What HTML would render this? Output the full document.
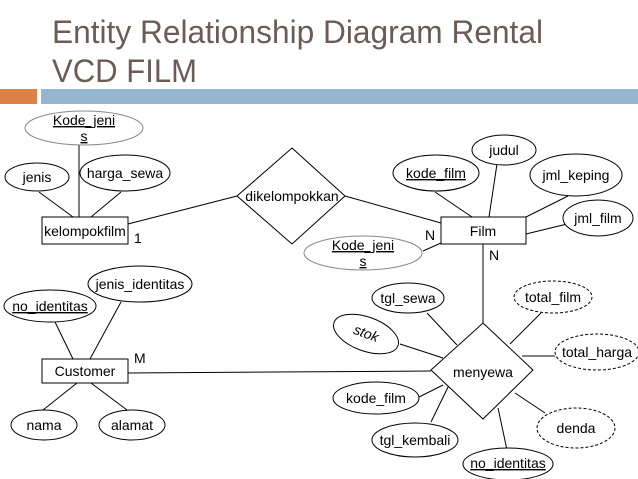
<!DOCTYPE html>
<html><head><meta charset="utf-8"><style>
html,body{margin:0;padding:0;background:#fff;width:638px;height:479px;overflow:hidden}
svg{display:block}
text{font-family:"Liberation Sans",sans-serif;font-size:14px;fill:#000}
</style></head><body>
<svg width="638" height="479" viewBox="0 0 638 479" xmlns="http://www.w3.org/2000/svg">
<text x="52" y="43" style="font-size:32px;fill:#6b5d55" textLength="491" lengthAdjust="spacingAndGlyphs">Entity Relationship Diagram Rental</text>
<text x="52" y="82" style="font-size:32px;fill:#6b5d55" textLength="145" lengthAdjust="spacingAndGlyphs">VCD FILM</text>
<rect x="0" y="89" width="37" height="15" fill="#dd8047"/>
<rect x="41" y="89" width="597" height="15" fill="#94b6d2"/>
<g stroke="#000" stroke-width="1" fill="none">
<line x1="79" y1="145" x2="79" y2="217"/>
<line x1="39" y1="192" x2="73" y2="217"/>
<line x1="121" y1="192" x2="91" y2="217"/>
<line x1="128" y1="224" x2="237" y2="196"/>
<line x1="345" y1="196" x2="441" y2="223"/>
<line x1="423" y1="251" x2="441" y2="243"/>
<line x1="435" y1="192" x2="472" y2="217"/>
<line x1="497" y1="164" x2="489" y2="217"/>
<line x1="568" y1="196" x2="526" y2="217"/>
<line x1="567" y1="224" x2="526" y2="234"/>
<line x1="483" y1="244" x2="483" y2="323"/>
<line x1="128" y1="373" x2="431" y2="371"/>
<line x1="55" y1="322" x2="73" y2="359"/>
<line x1="121" y1="302" x2="90" y2="359"/>
<line x1="43" y1="410" x2="77" y2="383"/>
<line x1="127" y1="410" x2="91" y2="383"/>
<line x1="427" y1="313" x2="457" y2="345"/>
<line x1="400" y1="344" x2="443" y2="358"/>
<line x1="541" y1="313" x2="510" y2="344"/>
<line x1="522" y1="356" x2="555" y2="356"/>
<line x1="419" y1="397" x2="443" y2="385"/>
<line x1="431" y1="422" x2="450" y2="383"/>
<line x1="507" y1="450" x2="498" y2="408"/>
<line x1="545" y1="413" x2="515" y2="393"/>
<rect x="42" y="217" width="86" height="27" fill="#fff"/>
<rect x="441" y="217" width="85" height="27" fill="#fff"/>
<rect x="42" y="359" width="86" height="24" fill="#fff"/>
<polygon points="292,148 345,196 292,244 237,196" fill="#fff"/>
<polygon points="483,323 533,370 483,419 431,370" fill="#fff"/>
<ellipse cx="84" cy="128" rx="59" ry="17" stroke="#888" fill="#fff"/>
<ellipse cx="363" cy="253" rx="59" ry="17" stroke="#888" fill="#fff"/>
<ellipse cx="37" cy="177" rx="32" ry="14" fill="#fff"/>
<ellipse cx="125" cy="173" rx="45" ry="18" fill="#fff"/>
<ellipse cx="436" cy="173" rx="43" ry="18" fill="#fff"/>
<ellipse cx="504" cy="150" rx="32" ry="15" fill="#fff"/>
<ellipse cx="576" cy="175" rx="46" ry="21" fill="#fff"/>
<ellipse cx="598" cy="218" rx="35" ry="18" fill="#fff"/>
<ellipse cx="140" cy="284" rx="52" ry="18" fill="#fff"/>
<ellipse cx="50" cy="306" rx="46" ry="16" fill="#fff"/>
<ellipse cx="44" cy="425" rx="33" ry="15" fill="#fff"/>
<ellipse cx="132" cy="425" rx="33" ry="15" fill="#fff"/>
<ellipse cx="408" cy="298" rx="36" ry="15" fill="#fff"/>
<ellipse cx="366" cy="334" rx="34" ry="17" fill="#fff" transform="rotate(20 366 334)"/>
<ellipse cx="376" cy="398" rx="43" ry="16" fill="#fff"/>
<ellipse cx="415" cy="440" rx="43" ry="17" fill="#fff"/>
<ellipse cx="508" cy="464" rx="45" ry="16" fill="#fff"/>
<g stroke-dasharray="3,2">
<ellipse cx="553" cy="297" rx="39" ry="16" fill="#fff"/>
<ellipse cx="597" cy="352" rx="42" ry="18" fill="#fff"/>
<ellipse cx="576" cy="428" rx="39" ry="20" fill="#fff"/>
</g>
</g>
<g text-anchor="middle">
<text x="84" y="125" text-decoration="underline">Kode_jeni</text>
<text x="84" y="141" text-decoration="underline">s</text>
<text x="363" y="250" text-decoration="underline">Kode_jeni</text>
<text x="363" y="266" text-decoration="underline">s</text>
<text x="37" y="182">jenis</text>
<text x="125" y="178">harga_sewa</text>
<text x="85" y="236">kelompokfilm</text>
<text x="292" y="201">dikelompokkan</text>
<text x="483" y="236">Film</text>
<text x="436" y="178" text-decoration="underline">kode_film</text>
<text x="504" y="155">judul</text>
<text x="576" y="180">jml_keping</text>
<text x="598" y="223">jml_film</text>
<text x="140" y="289">jenis_identitas</text>
<text x="50" y="311" text-decoration="underline">no_identitas</text>
<text x="85" y="376">Customer</text>
<text x="44" y="430">nama</text>
<text x="132" y="430">alamat</text>
<text x="483" y="377">menyewa</text>
<text x="408" y="303">tgl_sewa</text>
<text x="366" y="338" transform="rotate(20 366 334)" font-style="italic">stok</text>
<text x="553" y="302">total_film</text>
<text x="597" y="357">total_harga</text>
<text x="376" y="403">kode_film</text>
<text x="415" y="445">tgl_kembali</text>
<text x="508" y="468" text-decoration="underline">no_identitas</text>
<text x="576" y="433">denda</text>
</g>
<text x="134" y="243">1</text>
<text x="425" y="240">N</text>
<text x="489" y="260">N</text>
<text x="134" y="363">M</text>
</svg>
</body></html>
